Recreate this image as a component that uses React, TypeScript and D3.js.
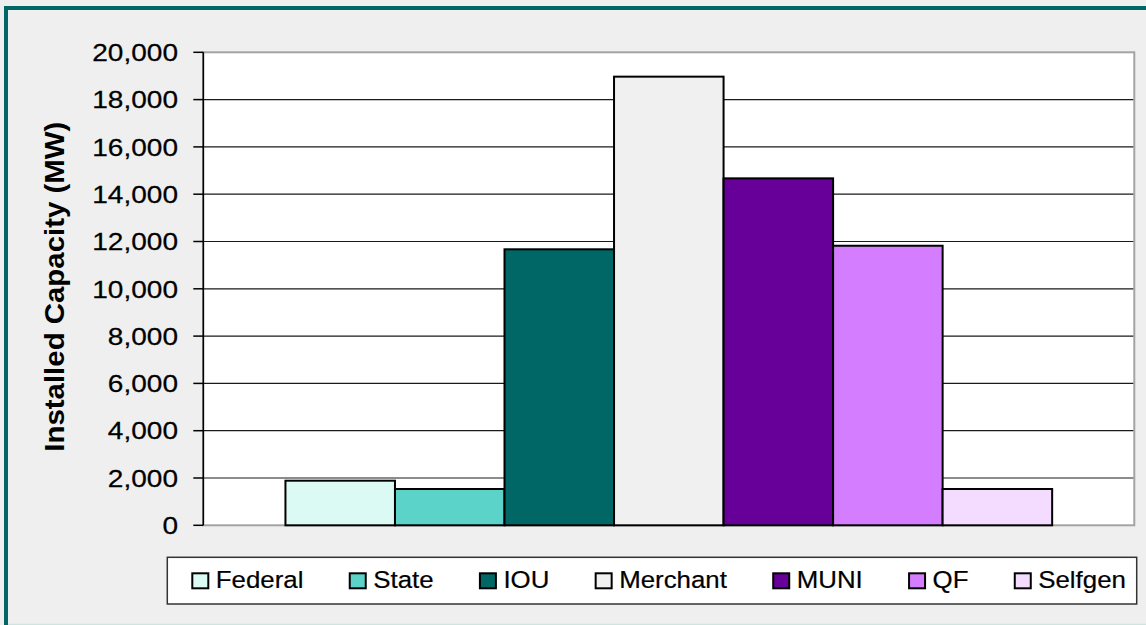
import React from "react";
import * as d3 from "d3";

// Installed capacity by ownership type (MW)
const owners = ["Federal", "State", "IOU", "Merchant", "MUNI", "QF", "Selfgen"];
const capacityMW = [1886, 1535, 11670, 18970, 14670, 11820, 1535];
const ownerColors = ["#dbfaf3", "#5cd3c8", "#006666", "#f0f0f0", "#660099", "#d47eff", "#f3dcff"];
const yTicks = [0, 2000, 4000, 6000, 8000, 10000, 12000, 14000, 16000, 18000, 20000];
const yTitle = "Installed Capacity (MW)";

const W = 1146;
const H = 625;
const FONT = "'Liberation Sans', Arial, sans-serif";

const plot = { left: 203.3, top: 52.3, right: 1134.3, bottom: 525.3 };
const legendBox = { x: 167.3, y: 557.3, w: 969.4, h: 46.7 };

const measure = (() => {
  let ctx: CanvasRenderingContext2D | null = null;
  return (txt: string, font: string) => {
    if (!ctx) ctx = document.createElement("canvas").getContext("2d");
    if (!ctx) return txt.length * 12;
    ctx.font = font;
    return ctx.measureText(txt).width;
  };
})();

export default function App() {
  const y = d3.scaleLinear().domain([0, 20000]).range([plot.bottom, plot.top]);
  const x = d3
    .scaleBand<string>()
    .domain(owners)
    .range([plot.left, plot.right])
    .paddingInner(0)
    .paddingOuter(0.75);
  const fmt = d3.format(",");

  // legend layout: swatch, gap, label, spacing
  const legendFontSize = 23.5;
  const legendStretch = 1.1;
  const swatch = 16;
  const legendItems: { name: string; color: string; sx: number; tx: number }[] = [];
  let cursor = legendBox.x + 25;
  owners.forEach((name, i) => {
    const tw = measure(name, `${legendFontSize}px ${FONT}`) * legendStretch;
    legendItems.push({ name, color: ownerColors[i], sx: cursor, tx: cursor + swatch + 7.5 });
    cursor += swatch + 7.5 + tw + 46.3;
  });

  const tickStretch = 1.14;

  return (
    <svg
      width={W}
      height={H}
      style={{ position: "fixed", left: 0, top: 0, display: "block" }}
      fontFamily={FONT}
    >
      <rect x={0} y={0} width={W} height={H} fill="#efefef" />
      {/* outer frame */}
      <rect x={6} y={8} width={W + 20} height={H + 20} fill="#efefef" stroke="#006666" strokeWidth={4} />
      <line x1={8} x2={W} y1={624.5} y2={624.5} stroke="#cfe3df" strokeWidth={1.5} />

      {/* plot area */}
      <rect
        x={plot.left}
        y={plot.top}
        width={plot.right - plot.left}
        height={plot.bottom - plot.top}
        fill="#ffffff"
        stroke="#a3a3a3"
        strokeWidth={2}
      />

      {/* gridlines */}
      {yTicks
        .filter((t) => t > 0 && t < 20000)
        .map((t) => (
          <line
            key={"g" + t}
            x1={plot.left}
            x2={plot.right - 1}
            y1={y(t)}
            y2={y(t)}
            stroke="#1a1a1a"
            strokeWidth={1.2}
          />
        ))}

      {/* bars */}
      {owners.map((name, i) => (
        <rect
          key={name}
          x={x(name)!}
          y={y(capacityMW[i])}
          width={x.bandwidth()}
          height={y(0) - y(capacityMW[i])}
          fill={ownerColors[i]}
          stroke="#000"
          strokeWidth={2}
        />
      ))}

      {/* y axis */}
      <line x1={plot.left} x2={plot.left} y1={plot.top} y2={plot.bottom} stroke="#000" strokeWidth={1.5} />
      {yTicks.map((t) => (
        <g key={"t" + t}>
          <line x1={plot.left - 10} x2={plot.left} y1={y(t)} y2={y(t)} stroke="#000" strokeWidth={1.5} />
          <text
            transform={`translate(${178},${y(t) + 8.7}) scale(${tickStretch},1)`}
            textAnchor="end"
            fontSize={24.6}
            fill="#000"
            stroke="#000"
            strokeWidth={0.25}
          >
            {fmt(t)}
          </text>
        </g>
      ))}

      {/* y axis title */}
      <text
        transform={`translate(64,${286.7}) rotate(-90)`}
        textAnchor="middle"
        fontSize={28}
        fontWeight="bold"
        fill="#000"
        textLength={330}
        lengthAdjust="spacingAndGlyphs"
      >
        {yTitle}
      </text>

      {/* legend */}
      <rect
        x={legendBox.x}
        y={legendBox.y}
        width={legendBox.w}
        height={legendBox.h}
        fill="#ffffff"
        stroke="#333"
        strokeWidth={1.5}
      />
      {legendItems.map((it) => (
        <g key={"l" + it.name}>
          <rect x={it.sx} y={573.3} width={swatch} height={15} fill={it.color} stroke="#000" strokeWidth={2} />
          <text
            transform={`translate(${it.tx},588) scale(${legendStretch},1)`}
            fontSize={legendFontSize}
            fill="#000"
            stroke="#000"
            strokeWidth={0.2}
          >
            {it.name}
          </text>
        </g>
      ))}
    </svg>
  );
}
